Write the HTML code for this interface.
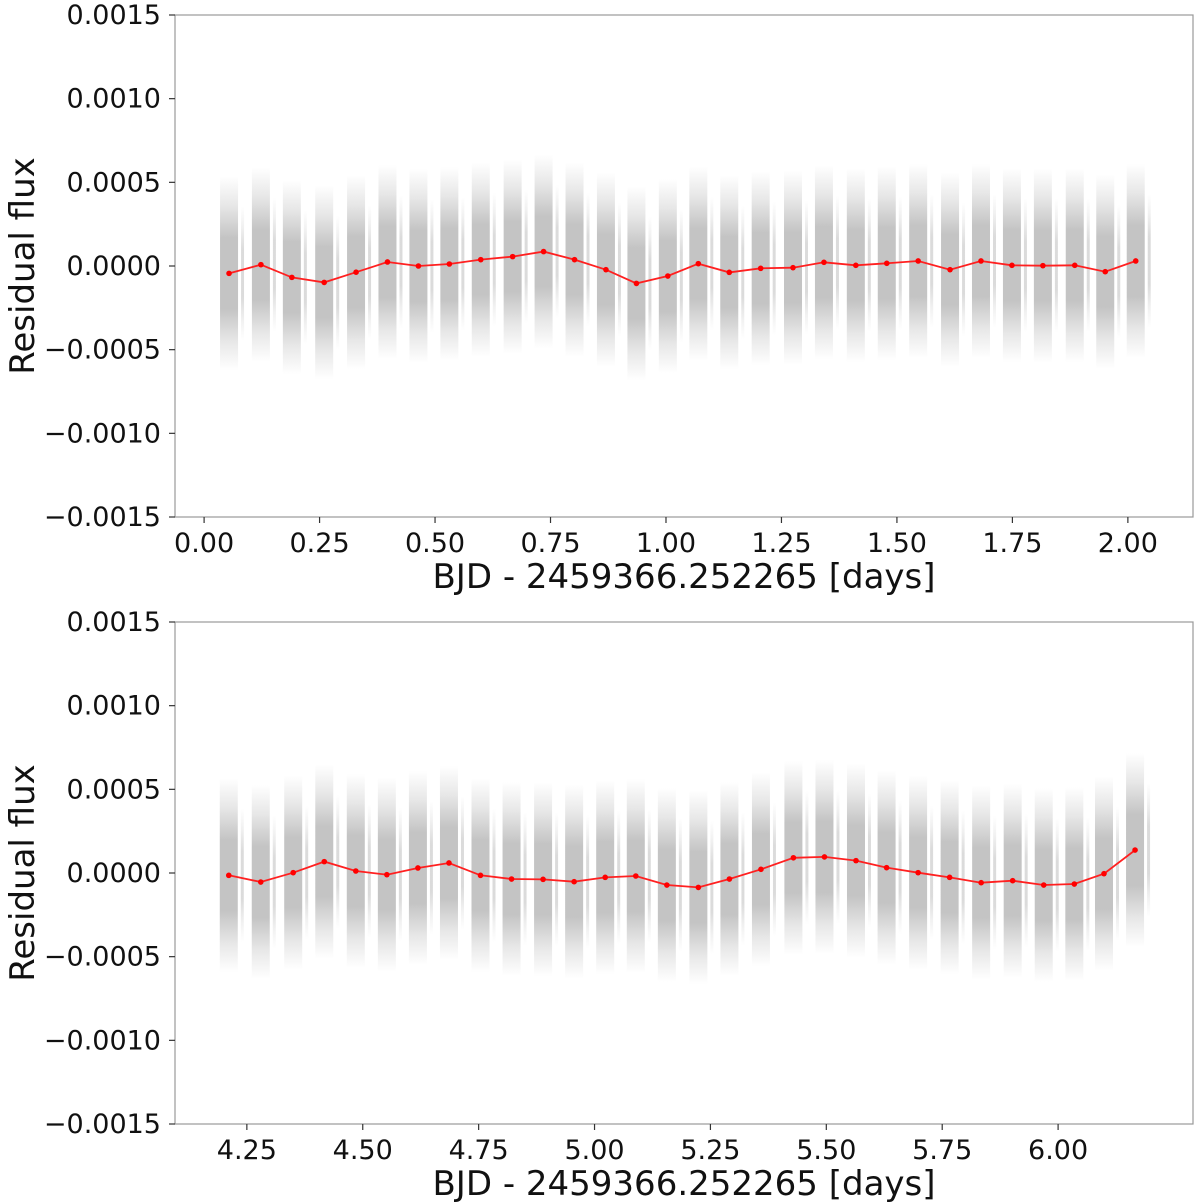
<!DOCTYPE html>
<html><head><meta charset="utf-8"><style>
body{margin:0;background:#fff}
svg{display:block;font-family:"DejaVu Sans","Liberation Sans",sans-serif}
</style></head><body>
<svg id="chart" width="1200" height="1204" viewBox="0 0 1200 1204" xmlns="http://www.w3.org/2000/svg">
<defs>
<linearGradient id="bandGrad" x1="0" y1="0" x2="0" y2="1">
<stop offset="0" stop-color="#888" stop-opacity="0"/>
<stop offset="0.15" stop-color="#888" stop-opacity="0.2"/>
<stop offset="0.32" stop-color="#888" stop-opacity="0.5"/>
<stop offset="0.68" stop-color="#888" stop-opacity="0.5"/>
<stop offset="0.85" stop-color="#888" stop-opacity="0.2"/>
<stop offset="1" stop-color="#888" stop-opacity="0"/>
</linearGradient>
</defs>
</svg>
<script>
// Top panel binned residuals
const topTimes = [0.054,0.123,0.190,0.260,0.329,0.397,0.464,0.531,0.599,0.668,0.735,0.802,0.870,0.936,1.004,1.070,1.137,1.205,1.275,1.342,1.411,1.478,1.546,1.615,1.682,1.749,1.816,1.885,1.951,2.017];
const topValues = [-4.4,0.8,-6.8,-9.8,-3.7,2.4,0,1.2,3.8,5.6,8.6,3.8,-2.2,-10.4,-6.0,1.4,-3.8,-1.4,-1.0,2.2,0.4,1.6,3.0,-2.2,3.0,0.4,0.2,0.4,-3.4,3.0]; // x1e-5
const topXTicks = [0,0.25,0.5,0.75,1.0,1.25,1.5,1.75,2.0];
const topXTickLabels = ["0.00","0.25","0.50","0.75","1.00","1.25","1.50","1.75","2.00"];
// Bottom panel binned residuals
const botTimes = [4.211,4.280,4.350,4.417,4.485,4.552,4.619,4.686,4.754,4.821,4.889,4.956,5.023,5.089,5.156,5.224,5.291,5.359,5.429,5.496,5.564,5.630,5.698,5.766,5.834,5.902,5.969,6.035,6.099,6.166];
const botValues = [-1.4,-5.4,0.2,6.8,1.2,-1.0,3.0,6.0,-1.4,-3.6,-3.8,-5.2,-2.6,-1.8,-7.2,-8.6,-3.6,2.2,9.1,9.6,7.4,3.2,0.2,-2.6,-5.8,-4.6,-7.2,-6.6,-0.4,13.7]; // x1e-5
const botXTicks = [4.25,4.5,4.75,5.0,5.25,5.5,5.75,6.0];
const botXTickLabels = ["4.25","4.50","4.75","5.00","5.25","5.50","5.75","6.00"];
const yTicks = [0.0015,0.0010,0.0005,0,-0.0005,-0.0010,-0.0015];
const yTickLabels = ["0.0015","0.0010","0.0005","0.0000","\u22120.0005","\u22120.0010","\u22120.0015"];

const NS="http://www.w3.org/2000/svg";
const svg=document.getElementById('chart');
function mk(tag,attrs,parent){const e=document.createElementNS(NS,tag);for(const k in attrs)e.setAttribute(k,attrs[k]);(parent||svg).appendChild(e);return e;}

function panel(name,top,xMin,xMax,times,values,xt,xtl){
  const L=175,R=1193,T=top,B=top+502;
  const xs=t=>L+(t-xMin)/(xMax-xMin)*(R-L);
  const ys=v=>T+(0.0015-v)/0.003*(B-T);
  const g=mk('g',{});
  
  
  const sg=mk('g',{},g);
  
  
  times.forEach((t,i)=>{
    const v=values[i]*1e-5;
    const cx=xs(t);
    const r=mk('rect',{x:cx-9,y:ys(v+0.00058),width:18,height:ys(v-0.00058)-ys(v+0.00058),fill:'url(#bandGrad)'},sg);
    
    
    const s=mk('rect',{x:cx+12,y:ys(v+0.0004),width:3,height:ys(v-0.0004)-ys(v+0.0004),fill:'url(#bandGrad)',opacity:0.6},sg);
    
    
  });
  const f=mk('rect',{x:L,y:T,width:R-L,height:B-T,fill:'none',stroke:'#999','stroke-width':1.2},g);
  
  
  yTicks.forEach((v,i)=>{
    const y=ys(v);
    mk('line',{x1:L-6,x2:L,y1:y,y2:y,stroke:'#333','stroke-width':1.2},g);
    const tx=mk('text',{x:L-14,y:y+9,'text-anchor':'end','font-size':27,fill:'#111'},g);
    tx.textContent=yTickLabels[i];
    
    
  });
  xt.forEach((t,i)=>{
    const x=xs(t);
    mk('line',{x1:x,x2:x,y1:B,y2:B+6,stroke:'#333','stroke-width':1.2},g);
    const tx=mk('text',{x:x,y:B+35,'text-anchor':'middle','font-size':27,fill:'#111'},g);
    tx.textContent=xtl[i];
    
    
  });
  const pts=times.map((t,i)=>xs(t).toFixed(1)+','+ys(values[i]*1e-5).toFixed(1)).join(' ');
  const pl=mk('polyline',{points:pts,fill:'none',stroke:'#ff2020','stroke-width':1.8},g);
  
  
  times.forEach((t,i)=>{
    const c=mk('circle',{cx:xs(t),cy:ys(values[i]*1e-5),r:2.8,fill:'#ff0000'},g);
    
    
  });
  const xl=mk('text',{x:(L+R)/2,y:B+71,'text-anchor':'middle','font-size':34,fill:'#111'},g);
  xl.textContent='BJD - 2459366.252265 [days]';
  
  
  const yl=mk('text',{x:0,y:0,'text-anchor':'middle','font-size':34,fill:'#111',transform:`translate(34,${(T+B)/2}) rotate(-90)`},g);
  yl.textContent='Residual flux';
  
  
}
panel('top-panel',15,-0.063,2.141,topTimes,topValues,topXTicks,topXTickLabels);
panel('bottom-panel',622,4.095,6.291,botTimes,botValues,botXTicks,botXTickLabels);
</script>
</body></html>
